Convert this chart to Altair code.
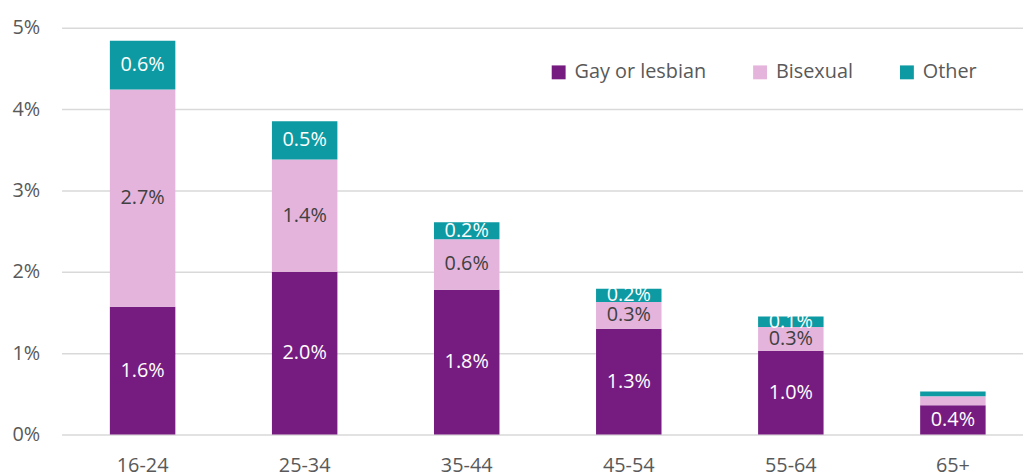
import altair as alt
import pandas as pd

categories = ["16-24", "25-34", "35-44", "45-54", "55-64", "65+"]
series = ["Gay or lesbian", "Bisexual", "Other"]
gay = [1.57, 2.00, 1.78, 1.30, 1.03, 0.36]
bisexual = [2.67, 1.38, 0.62, 0.33, 0.29, 0.11]
other = [0.60, 0.47, 0.21, 0.16, 0.13, 0.06]
show_label = {
    "Gay or lesbian": [True, True, True, True, True, True],
    "Bisexual": [True, True, True, True, True, False],
    "Other": [True, True, True, True, True, False],
}
colors = ["#761C80", "#E4B4DC", "#0E9AA2"]

rows = []
for s_i, (name, vals) in enumerate(zip(series, [gay, bisexual, other])):
    for c_i, (cat, v) in enumerate(zip(categories, vals)):
        rows.append({"cat": cat, "series": name, "ord": s_i, "value": v,
                     "show": show_label[name][c_i]})
df = pd.DataFrame(rows)

FONT = "Open Sans"

base = alt.Chart(df).transform_stack(
    stack="value", groupby=["cat"], as_=["y0", "y1"],
    sort=[alt.SortField("ord", order="ascending")]
).transform_calculate(
    mid="(datum.y0 + datum.y1) / 2",
    label="datum.show ? format(datum.value, '.1f') + '%' : ''",
)

xenc = alt.X("cat:N", sort=categories,
             scale=alt.Scale(range=[0, 980], paddingInner=0.596, paddingOuter=0.298),
             axis=alt.Axis(title=None, labelAngle=0, labelFont=FONT, labelFontSize=20,
                           labelColor="#595959", labelPadding=21, ticks=False,
                           domain=False, grid=False))

bars = base.mark_bar().encode(
    x=xenc,
    y=alt.Y("y0:Q", scale=alt.Scale(domain=[0, 5], nice=False),
            axis=alt.Axis(title=None, values=[0, 1, 2, 3, 4, 5],
                          labelExpr="datum.value + '%'", labelFont=FONT,
                          labelFontSize=20, labelColor="#595959", labelPadding=22,
                          ticks=False, domain=False, gridColor="#D9D9D9",
                          gridWidth=1.5)),
    y2="y1:Q",
    color=alt.Color("series:N", sort=series,
                    scale=alt.Scale(domain=series, range=colors),
                    legend=alt.Legend(title=None, orient="none", direction="horizontal",
                                      legendX=491, legendY=35, symbolType="square",
                                      symbolSize=196, symbolStrokeWidth=0,
                                      labelFont=FONT, labelFontSize=20,
                                      labelColor="#595959", labelOffset=6,
                                      columnPadding=44, padding=0,
                                      labelLimit=300)),
)

texts = base.transform_calculate(
    tcolor="datum.series == 'Bisexual' ? '#404040' : '#FFFFFF'"
).mark_text(font=FONT, fontSize=20, baseline="middle", align="center").encode(
    x=alt.X("cat:N", sort=categories),
    y=alt.Y("mid:Q"),
    text="label:N",
    color=alt.Color("tcolor:N", scale=None, legend=None),
)

chart = alt.layer(bars, texts).properties(
    width=969, height=410,
    autosize=alt.AutoSizeParams(type="none"),
    padding={"left": 54, "top": 18, "right": 0, "bottom": 46},
).configure_view(stroke=None)

chart.save("out.html", embed_options={"renderer": "svg", "actions": False})
